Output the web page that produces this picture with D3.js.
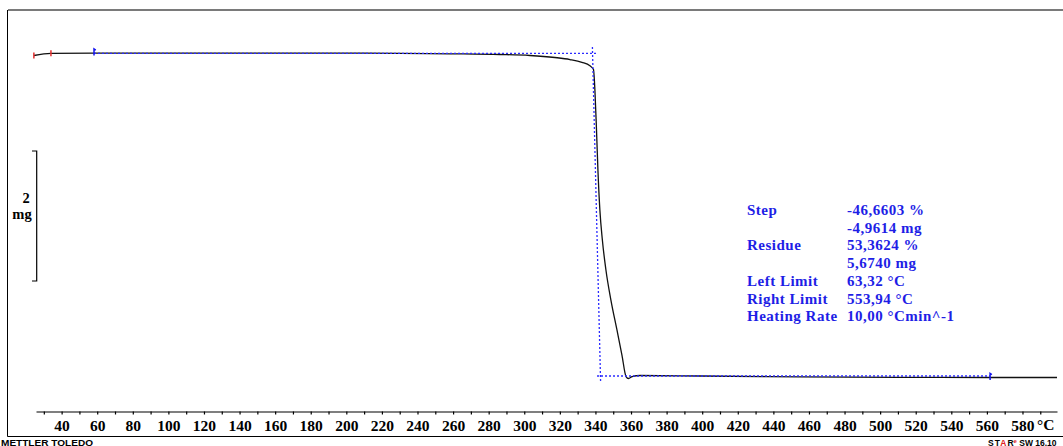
<!DOCTYPE html>
<html>
<head>
<meta charset="utf-8">
<script src="https://cdn.jsdelivr.net/npm/d3@7"></script>
<style>
  html, body { margin: 0; padding: 0; background: #fff; }
  svg { display: block; }
</style>
</head>
<body>
<svg id="chart" width="1063" height="446"></svg>
<script>
// TGA curve: sample temperature (°C) and mass (mg)
const temps  = [24.4, 34.0, 58.2, 117.7, 173.9, 230.1, 258.2, 286.3, 303.2, 317.2, 325.7, 332.4, 336.9, 338.9,
                339.7, 340.6, 341.4, 342.5, 343.9, 345.9, 348.7, 352.1, 354.9, 357.2, 358.6, 360.6, 365.1,
                398.8, 455.0, 511.1, 561.8, 599.4];
const masses = [10.597, 10.631, 10.635, 10.635, 10.635, 10.631, 10.623, 10.612, 10.597, 10.566, 10.535, 10.492, 10.438, 10.382,
                10.066, 9.451, 8.835, 8.220, 7.758, 7.297, 6.835, 6.374, 5.989, 5.658, 5.628, 5.658, 5.674,
                5.666, 5.654, 5.646, 5.643, 5.643];

// evaluation construction lines (temperature, mass)
const upperBaseline = [[58.2, 10.631], [341.4, 10.631]];
const lowerBaseline = [[340.9, 5.666], [561.8, 5.666]];
const stepTangent   = [[338.3, 10.727], [342.9, 5.574]];

// curve range markers and evaluation limit markers (°C)
const rangeMarkers = [24.4, 34.0];
const limitMarkers = [[58.2, 10.635], [561.8, 5.643]];

// axis ticks
const minorTicks = d3.range(30, 591, 10);
const labelTicks = d3.range(40, 581, 20);

// scale bar
const scaleBarMg = 2;
const scaleBarBase = 7.128;

// result table
const resultLabels = ["Step", "", "Residue", "", "Left Limit", "Right Limit", "Heating Rate"];
const resultValues = ["-46,6603 %", "-4,9614 mg", "53,3624 %", "5,6740 mg", "63,32 °C", "553,94 °C", "10,00 °Cmin^-1"];

const svg = d3.select("#chart");
const serif = "'Liberation Serif', 'Times New Roman', serif";
const blue = "#1e1ee6";

const x = d3.scaleLinear().domain([25.6, 599.4]).range([36, 1057]);
const y = d3.scaleLinear().domain([5, 11]).range([419.3, 29.3]);

// frame
svg.append("line").attr("x1", 8).attr("x2", 1063).attr("y1", 10).attr("y2", 10)
  .attr("stroke", "#7a7a7a").attr("stroke-width", 2);
svg.append("line").attr("x1", 7.5).attr("x2", 7.5).attr("y1", 10).attr("y2", 436.5)
  .attr("stroke", "#000").attr("stroke-width", 1);
svg.append("line").attr("x1", 7.5).attr("x2", 1063).attr("y1", 436.5).attr("y2", 436.5)
  .attr("stroke", "#000").attr("stroke-width", 1);

// x axis
const axis = d3.axisBottom(x)
  .tickValues(minorTicks)
  .tickSize(3)
  .tickSizeOuter(0)
  .tickPadding(5)
  .tickFormat(d => labelTicks.includes(d) ? d : "");
const gx = svg.append("g").attr("transform", "translate(0,411.5)").call(axis);
gx.select(".domain").attr("stroke", "#000").attr("stroke-width", 1.2);
gx.selectAll(".tick line").attr("stroke", "#000").attr("stroke-width", 1.2);
gx.selectAll(".tick text")
  .attr("fill", "#000")
  .style("font-family", serif)
  .style("font-weight", "bold")
  .style("font-size", "15.5px");
svg.append("text").attr("x", 1037).attr("y", 430)
  .style("font-family", serif).style("font-weight", "bold").style("font-size", "15.5px")
  .text("°C");

// scale bar
const sbTop = y(scaleBarBase + scaleBarMg), sbBot = y(scaleBarBase);
svg.append("path")
  .attr("d", `M32,${sbTop}H36.7V${sbBot}H32`)
  .attr("fill", "none").attr("stroke", "#000").attr("stroke-width", 1.2);
svg.append("text").attr("x", 26).attr("y", 203).attr("text-anchor", "middle")
  .style("font-family", serif).style("font-weight", "bold").style("font-size", "14.5px")
  .text(String(scaleBarMg));
svg.append("text").attr("x", 22).attr("y", 219).attr("text-anchor", "middle")
  .style("font-family", serif).style("font-weight", "bold").style("font-size", "14.5px")
  .text("mg");

// measured curve
const pts = temps.map((t, i) => [t, masses[i]]);
const line = d3.line().x(d => x(d[0])).y(d => y(d[1])).curve(d3.curveMonotoneX);
svg.append("path").datum(pts)
  .attr("d", line)
  .attr("fill", "none").attr("stroke", "#111").attr("stroke-width", 1.3);

// construction lines
const straight = d3.line().x(d => x(d[0])).y(d => y(d[1]));
[upperBaseline, lowerBaseline, stepTangent].forEach(seg => {
  svg.append("path").datum(seg)
    .attr("d", straight)
    .attr("fill", "none").attr("stroke", "#2b2bff").attr("stroke-width", 1.3)
    .attr("stroke-dasharray", "2,2");
});

// range markers (red)
rangeMarkers.forEach((t, i) => {
  const m = masses[i];
  svg.append("line")
    .attr("x1", x(t)).attr("x2", x(t))
    .attr("y1", y(m) - 3).attr("y2", y(m) + 3)
    .attr("stroke", "#e53030").attr("stroke-width", 1.5);
});

// limit markers (blue)
limitMarkers.forEach(([t, m]) => {
  const cx = x(t), cy = y(m);
  svg.append("path")
    .attr("d", `M${cx},${cy + 2.5}V${cy - 4}l1.8,1.2`)
    .attr("fill", "none").attr("stroke", "#1414ee").attr("stroke-width", 1.5);
});

// result table
const rowY = d => 215 + d * 17.7;
const tableText = sel => sel
  .attr("fill", blue)
  .style("font-family", serif).style("font-weight", "bold").style("font-size", "15px")
  .style("letter-spacing", "0.5px");
svg.append("g").selectAll("text").data(resultLabels).join("text")
  .attr("x", 747).attr("y", (d, i) => rowY(i))
  .call(tableText)
  .text(d => d);
svg.append("g").selectAll("text").data(resultValues).join("text")
  .attr("x", 847).attr("y", (d, i) => rowY(i))
  .call(tableText)
  .text(d => d);

// footer
const sans = "'Liberation Sans', Arial, sans-serif";
svg.append("text").attr("x", 1).attr("y", 445.5)
  .attr("textLength", 92).attr("lengthAdjust", "spacingAndGlyphs")
  .style("font-family", sans).style("font-weight", "bold").style("font-size", "8.5px")
  .text("METTLER TOLEDO");
const star = svg.append("text").attr("x", 988).attr("y", 445.5)
  .style("font-family", sans).style("font-weight", "bold").style("font-size", "8.5px");
star.append("tspan").style("letter-spacing", "1px").text("ST");
star.append("tspan").style("letter-spacing", "1px").attr("fill", "#e02020").text("A");
star.append("tspan").text("R");
star.append("tspan").attr("fill", "#e02020").attr("dy", -3).style("font-size", "6px").text("e");
star.append("tspan").attr("dy", 3).text(" SW 16.10");
</script>
</body>
</html>
